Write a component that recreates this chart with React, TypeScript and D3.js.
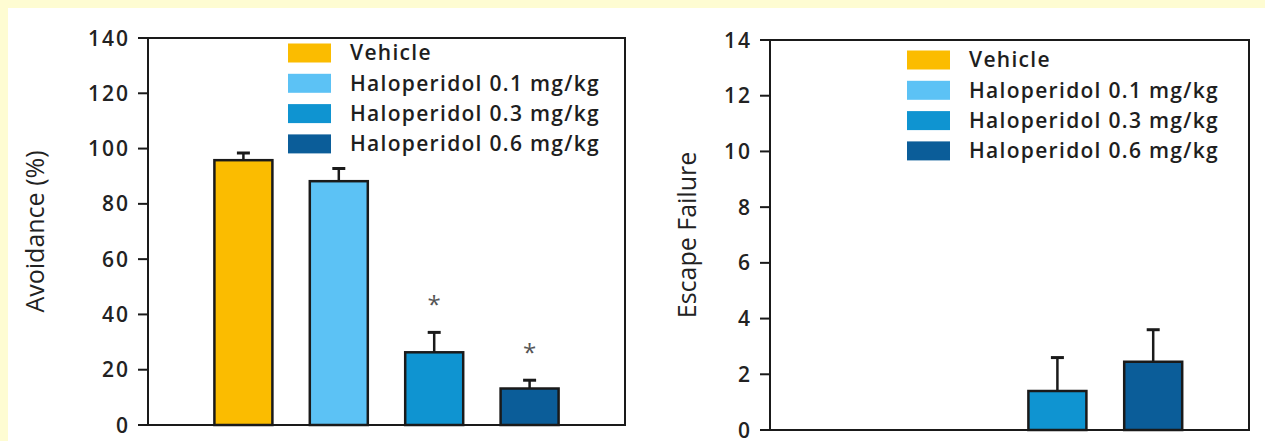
import * as d3 from "d3";

// groups in the order they are drawn
const groups = [
  "Vehicle",
  "Haloperidol 0.1 mg/kg",
  "Haloperidol 0.3 mg/kg",
  "Haloperidol 0.6 mg/kg",
];
const colors = ["#fbbc00", "#5cc2f5", "#0f94d1", "#0b5d99"];

const avoidanceMean = [95.8, 88.2, 26.3, 13.2];
const avoidanceErr = [2.6, 4.6, 7.2, 3.0];
const avoidanceStar = [false, false, true, true];
const avoidanceTicks = [0, 20, 40, 60, 80, 100, 120, 140];

const escapeMean = [0, 0, 1.4, 2.45];
const escapeErr = [0, 0, 1.2, 1.15];
const escapeStar = [false, false, false, false];
const escapeTicks = [0, 2, 4, 6, 8, 10, 12, 14];

const FONT = "'Open Sans', 'DejaVu Sans', sans-serif";

function BarPanel({
  left,
  top,
  width,
  height,
  yMax,
  ticks,
  means,
  errs,
  stars,
  yLabel,
  labelX,
  legendX,
  legendY,
}) {
  const x = d3
    .scalePoint()
    .domain(groups)
    .range([width / 5, (width * 4) / 5]);
  const y = d3.scaleLinear().domain([0, yMax]).range([height, 0]);
  const barW = 58;
  const capW = 13;
  return (
    <g transform={`translate(${left},${top})`}>
      {/* legend */}
      {groups.map((g, i) => (
        <g key={g} transform={`translate(${legendX},${legendY + i * 30.3})`}>
          <rect x={0} y={-9.5} width={43} height={19} fill={colors[i]} />
          <text
            x={62}
            y={0}
            dy="0.35em"
            fontSize={21}
            fontWeight={600}
            letterSpacing={1.3}
            fill="#1e1e1e"
            fontFamily={FONT}
          >
            {g}
          </text>
        </g>
      ))}
      {/* bars */}
      {groups.map((g, i) => {
        const cx = x(g);
        if (means[i] <= 0) return null;
        const yTop = y(means[i]);
        const yErr = y(means[i] + errs[i]);
        return (
          <g key={g}>
            <line x1={cx} x2={cx} y1={yTop} y2={yErr} stroke="#1a1a1a" strokeWidth={2.5} />
            <line
              x1={cx - capW / 2}
              x2={cx + capW / 2}
              y1={yErr}
              y2={yErr}
              stroke="#1a1a1a"
              strokeWidth={3}
            />
            <rect
              x={cx - barW / 2}
              y={yTop}
              width={barW}
              height={height - yTop}
              fill={colors[i]}
              stroke="#1a1a1a"
              strokeWidth={2.5}
            />
            {stars[i] && (
              <text
                x={cx}
                y={yErr - 19}
                textAnchor="middle"
                fontSize={24}
                fill="#555"
                fontFamily={FONT}
              >
                *
              </text>
            )}
          </g>
        );
      })}
      {/* frame */}
      <rect x={0} y={0} width={width} height={height} fill="none" stroke="#1a1a1a" strokeWidth={2} />
      {/* y ticks */}
      {ticks.map((t) => (
        <g key={t} transform={`translate(0,${y(t)})`}>
          <line x1={-10} x2={0} stroke="#1a1a1a" strokeWidth={2} />
          <text
            x={-18}
            dy="0.36em"
            textAnchor="end"
            fontSize={21}
            fontWeight={600}
            letterSpacing={2}
            fill="#222"
            fontFamily={FONT}
          >
            {t}
          </text>
        </g>
      ))}
      <text
        transform={`translate(${labelX},${height / 2}) rotate(-90)`}
        textAnchor="middle"
        dy="0.35em"
        fontSize={25}
        fill="#222"
        fontFamily={FONT}
      >
        {yLabel}
      </text>
    </g>
  );
}

export default function App() {
  const W = 1265,
    H = 441;
  return (
    <svg
      width={W}
      height={H}
      style={{ position: "absolute", left: 0, top: 0 }}
    >
      <rect x={0} y={0} width={W} height={H} fill="#fefcd2" />
      <rect x={8} y={8} width={W - 8} height={H - 8} fill="#ffffff" />
      <BarPanel
        left={148}
        top={38}
        width={477}
        height={387}
        yMax={140}
        ticks={avoidanceTicks}
        means={avoidanceMean}
        errs={avoidanceErr}
        stars={avoidanceStar}
        yLabel="Avoidance (%)"
        labelX={-113}
        legendX={140}
        legendY={15}
      />
      <BarPanel
        left={770}
        top={40}
        width={479}
        height={390}
        yMax={14}
        ticks={escapeTicks}
        means={escapeMean}
        errs={escapeErr}
        stars={escapeStar}
        yLabel="Escape Failure"
        labelX={-83}
        legendX={137}
        legendY={20}
      />
    </svg>
  );
}
